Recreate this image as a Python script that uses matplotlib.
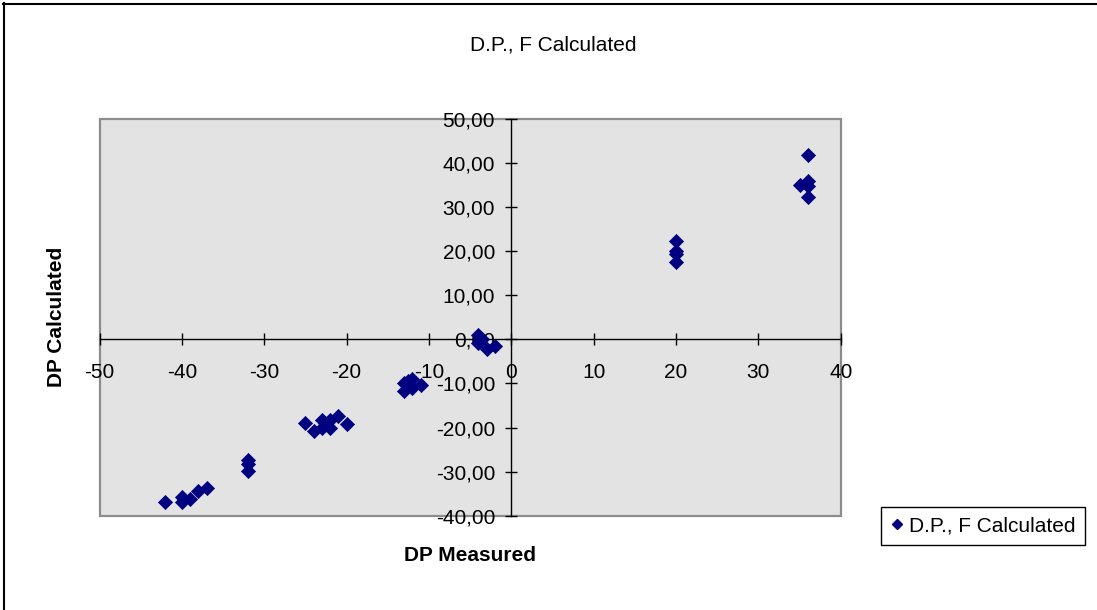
import matplotlib
matplotlib.use("Agg")
import matplotlib.pyplot as plt
from matplotlib.ticker import FuncFormatter, MultipleLocator
from matplotlib.lines import Line2D
from matplotlib.patches import Rectangle

plt.rcParams['font.family'] = ['Liberation Sans', 'DejaVu Sans']

# Data
dp_measured = [-42, -40, -40, -39, -38, -37,
               -32, -32, -32,
               -25, -24, -23, -23, -22, -22, -21, -20, -22.6,
               -13, -13, -12, -12, -11, -12.5,
               -4, -4, -3, -2, -3.5,
               20, 20, 20, 20,
               36, 35, 36, 36, 36]
dp_calculated = [-36.8, -35.8, -37.0, -36.3, -34.4, -33.8,
                 -27.3, -28.3, -29.8,
                 -18.9, -20.7, -18.3, -20.2, -18.3, -20.0, -17.4, -19.3, -19.0,
                 -10.0, -11.8, -8.9, -11.1, -10.3, -9.5,
                 0.9, -0.8, -2.1, -1.4, 0.0,
                 22.4, 20.0, 19.3, 17.5,
                 41.8, 35.1, 36.0, 34.8, 32.2]
series_name = "D.P., F Calculated"
title_text = "D.P., F Calculated"
x_label = "DP Measured"
y_label = "DP Calculated"

W, H = 1097, 610
fig = plt.figure(figsize=(W / 100, H / 100), dpi=100)

left, right, top, bottom = 99.5, 840.7, 119.0, 515.7
ax = fig.add_axes([left / W, 1 - bottom / H, (right - left) / W, (bottom - top) / H])
ax.set_facecolor('#e3e3e3')
ax.set_xlim(-50, 40)
ax.set_ylim(-40, 50)

ax.scatter(dp_measured, dp_calculated, marker='D', s=52, color='#000080',
           edgecolors='#000080', linewidths=0.5, zorder=3, clip_on=False)

# spines through zero
for s in ['top', 'right']:
    ax.spines[s].set_visible(False)
ax.spines['left'].set_position(('data', 0))
ax.spines['bottom'].set_position(('data', 0))
for s in ['left', 'bottom']:
    ax.spines[s].set_color('black')
    ax.spines[s].set_linewidth(1.0)
    ax.spines[s].set_zorder(2)

# gray plot-area border
ax.add_patch(Rectangle((0, 0), 1, 1, transform=ax.transAxes, fill=False,
                       edgecolor='#8c8c8c', linewidth=1.6, clip_on=False, zorder=1))

ax.xaxis.set_major_locator(MultipleLocator(10))
ax.yaxis.set_major_locator(MultipleLocator(10))
ax.xaxis.set_major_formatter(FuncFormatter(lambda v, p: f"{v:.0f}"))
ax.yaxis.set_major_formatter(FuncFormatter(lambda v, p: f"{v:.2f}".replace('.', ',')))
ax.tick_params(axis='both', direction='inout', length=8.6, width=1.0, colors='black',
               labelsize=15)
ax.tick_params(axis='x', pad=13)
ax.tick_params(axis='y', pad=7.4)

fig.text(553.5 / W, 1 - 44.7 / H, title_text, ha='center', va='center', fontsize=15)
fig.text(470 / W, 1 - 555.5 / H, x_label, ha='center', va='center', fontsize=15,
         fontweight='bold')
fig.text(57 / W, 1 - 317 / H, y_label, ha='center', va='center', fontsize=15,
         fontweight='bold', rotation=90)

handle = Line2D([], [], linestyle='none', marker='D', markersize=5.5,
                color='#000080')
leg = fig.legend([handle], [series_name], loc='upper left',
                 bbox_to_anchor=(881 / W, 1 - 507 / H), fontsize=15,
                 frameon=True, fancybox=False, edgecolor='black', framealpha=1,
                 handlelength=0.6, handletextpad=0.3, borderpad=0.45,
                 borderaxespad=0)
leg.get_frame().set_linewidth(1.0)

# outer chart border (top & left visible)
fig.add_artist(Line2D([3 / W, 1.0], [1 - 4 / H, 1 - 4 / H], transform=fig.transFigure,
                      color='black', linewidth=1.5))
fig.add_artist(Line2D([4 / W, 4 / W], [0, 1 - 3 / H], transform=fig.transFigure,
                      color='black', linewidth=1.5))

fig.savefig('out.png', dpi=100)
